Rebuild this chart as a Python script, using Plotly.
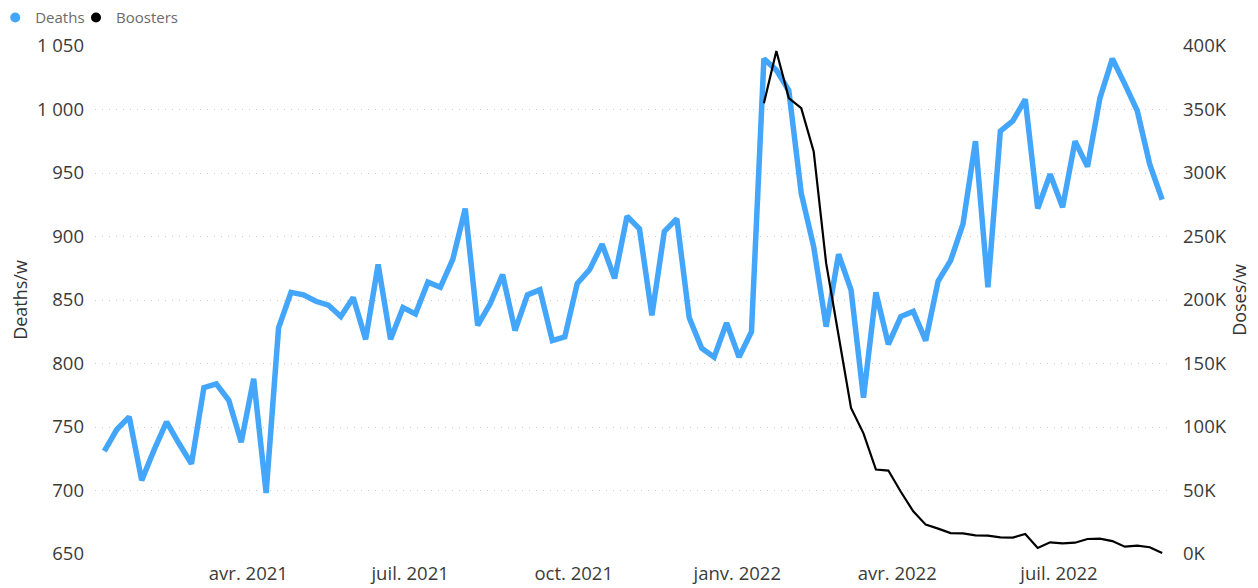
import pandas as pd
import plotly.graph_objects as go

# weekly series, first week 2021-01-10
first_week = "2021-01-10"

deaths = [731, 748, 758, 708, 732, 754, 737, 721, 781, 784,
	771, 738, 788, 698, 828, 856, 854, 849, 846, 837,
	852, 819, 878, 819, 844, 839, 864, 860, 882, 922,
	830, 847, 870, 826, 854, 858, 818, 821, 863, 874,
	894, 867, 916, 906, 838, 904, 914, 836, 812, 805,
	832, 805, 825, 1040, 1031, 1015, 934, 892, 829, 886,
	858, 773, 856, 815, 837, 841, 818, 865, 881, 910,
	975, 860, 983, 991, 1008, 922, 949, 923, 975, 955,
	1009, 1040, 1020, 999, 957, 929]

# boosters only reported from week 54 on (doses per week)
boosters = [None] * 53 + [355000, 396000, 359000, 351000, 317000, 229000, 172000, 115000, 95000, 66500,
	65700, 49000, 33600, 23100, 20000, 16500, 16300, 14700, 14400, 13100,
	12900, 15700, 4700, 9200, 8400, 8900, 11800, 12100, 10200, 5800,
	6600, 5300, 800]

tick_dates = ["2021-04-01", "2021-07-01", "2021-10-01", "2022-01-01", "2022-04-01", "2022-07-01"]
tick_labels = ["avr. 2021", "juil. 2021", "oct. 2021", "janv. 2022", "avr. 2022", "juil. 2022"]

dose_ticks = [0, 50000, 100000, 150000, 200000, 250000, 300000, 350000, 400000]
dose_labels = [str(v // 1000) + "K" for v in dose_ticks]

BLUE = "#44A6FA"
FONT = "Segoe UI, Open Sans, sans-serif"
weeks = pd.date_range(start=first_week, periods=len(deaths), freq="7D")

fig = go.Figure()
fig.add_trace(go.Scatter(x=weeks, y=deaths, mode="lines", name="Deaths", showlegend=False,
	line=dict(color=BLUE, width=5.5)))
fig.add_trace(go.Scatter(x=weeks, y=boosters, mode="lines", name="Boosters", showlegend=False, yaxis="y2",
	line=dict(color="black", width=2.2)))
# legend entries drawn as dots like the original, one legend each so they can sit close together
fig.add_trace(go.Scatter(x=[None], y=[None], mode="markers", name="Deaths", legend="legend",
	marker=dict(color=BLUE, size=10)))
fig.add_trace(go.Scatter(x=[None], y=[None], mode="markers", name="Boosters", legend="legend2",
	marker=dict(color="black", size=10)))

legend_style = dict(orientation="h", xref="paper", yref="paper", y=1.088,
	xanchor="left", yanchor="top", font=dict(size=15, color="#6b6b6b"), itemwidth=30,
	bgcolor="rgba(0,0,0,0)")

# the page body has an 8px margin, so the figure is 8px smaller and margins are shifted
fig.update_layout(
	width=1250, height=580,
	margin=dict(l=87, r=90, t=38, b=34, autoexpand=False),
	plot_bgcolor="white", paper_bgcolor="white",
	separators=", ",
	font=dict(family=FONT, size=18.5, color="#3b3b3b"),
	legend=dict(legend_style, x=-0.093),
	legend2=dict(legend_style, x=-0.0177),
	xaxis=dict(range=["2021-01-04 18:00", "2022-08-31 07:00"], tickvals=tick_dates, ticktext=tick_labels,
		showgrid=False, zeroline=False, showline=False, ticks="", ticklabelstandoff=6),
	yaxis=dict(range=[650, 1050], dtick=50, tickformat=",d", showgrid=True, gridcolor="#cccccc",
		griddash="1px,6px", gridwidth=1, zeroline=False, showline=False, ticklabelstandoff=10,
		title=dict(text="Deaths/w", font=dict(size=18, color="#333333"), standoff=10)),
	yaxis2=dict(range=[0, 400000], overlaying="y", side="right", tickvals=dose_ticks, ticktext=dose_labels,
		showgrid=False, zeroline=False, showline=False, ticklabelstandoff=14,
		title=dict(text="Doses/w", font=dict(size=18, color="#333333"), standoff=4)),
)

fig.write_html("out.html")
